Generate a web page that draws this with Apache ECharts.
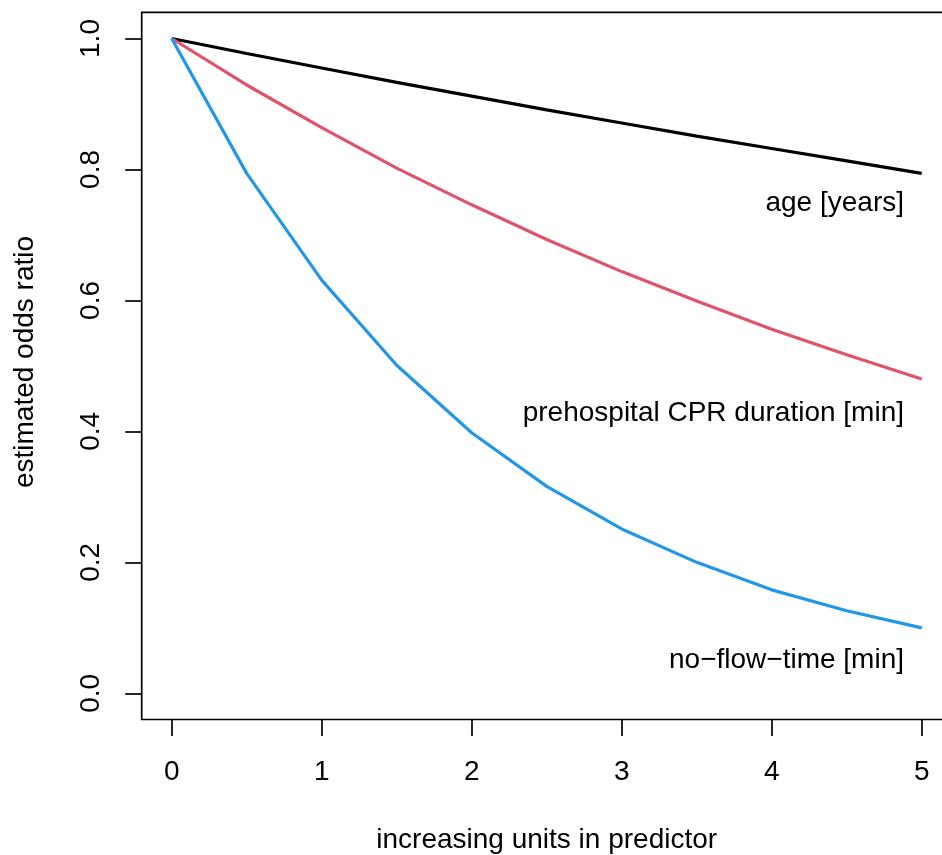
<!DOCTYPE html>
<html>
<head>
<meta charset="utf-8">
<title>estimated odds ratio</title>
<script src="https://cdn.jsdelivr.net/npm/echarts@6/dist/echarts.min.js"></script>
<style>
  html, body { margin: 0; padding: 0; background: #fff; }
  #chart { width: 942px; height: 855px; }
</style>
</head>
<body>
<div id="chart"></div>
<script>
// values
const units = [0, 0.5, 1, 1.5, 2, 2.5, 3, 3.5, 4, 4.5, 5];
const age = [1, 0.977, 0.955, 0.933, 0.912, 0.891, 0.871, 0.851, 0.832, 0.813, 0.794];
const cprDuration = [1, 0.929, 0.864, 0.802, 0.746, 0.693, 0.644, 0.599, 0.556, 0.517, 0.480];
const noFlowTime = [1, 0.794, 0.631, 0.501, 0.398, 0.316, 0.251, 0.200, 0.158, 0.126, 0.100];
const xTicks = [0, 1, 2, 3, 4, 5];
const yTicks = [0, 0.2, 0.4, 0.6, 0.8, 1.0];

const FONT = '"Liberation Sans", Helvetica, Arial, sans-serif';
const FS = 28;
const toPairs = vals => vals.map((v, i) => [units[i], v]);

const chart = echarts.init(document.getElementById('chart'));

const lineSeries = (name, vals, color) => ({
  name: name,
  type: 'line',
  data: toPairs(vals),
  showSymbol: false,
  symbol: 'none',
  lineStyle: { color: color, width: 3.2, cap: 'butt' },
  animation: false
});

const tickStyle = { color: '#000', width: 1.7 };

chart.setOption({
  animation: false,
  textStyle: { fontFamily: FONT },
  // plot box runs past the right edge of the picture, as in the original
  grid: {
    left: 141.7,
    top: 12.3,
    width: 810,
    height: 707.2,
    outerBoundsMode: 'none',
    containLabel: false,
    show: true,
    borderColor: '#000',
    borderWidth: 1.7,
    backgroundColor: 'transparent'
  },
  xAxis: {
    type: 'value',
    min: -0.2,
    max: 5.2,
    axisLine: { show: false, onZero: false },
    splitLine: { show: false },
    axisTick: { show: true, length: 16.5, lineStyle: tickStyle, customValues: xTicks },
    axisLabel: {
      customValues: xTicks,
      margin: 39,
      color: '#000',
      fontSize: FS,
      fontFamily: FONT
    }
  },
  yAxis: {
    type: 'value',
    min: -0.04,
    max: 1.04,
    axisLine: { show: false, onZero: false },
    splitLine: { show: false },
    axisTick: { show: true, length: 16.5, lineStyle: tickStyle, customValues: yTicks },
    axisLabel: {
      customValues: yTicks,
      rotate: 90,
      margin: 36,
      color: '#000',
      fontSize: FS,
      fontFamily: FONT,
      formatter: v => v.toFixed(1)
    }
  },
  series: [
    lineSeries('age [years]', age, '#000000'),
    lineSeries('prehospital CPR duration [min]', cprDuration, '#DF536B'),
    lineSeries('no-flow-time [min]', noFlowTime, '#2297E6')
  ],
  graphic: [
    { type: 'text', x: 904, y: 203.5, style: { text: 'age [years]', font: FS + 'px ' + FONT, fill: '#000', textAlign: 'right', textVerticalAlign: 'middle' } },
    { type: 'text', x: 904, y: 413.5, style: { text: 'prehospital CPR duration [min]', font: FS + 'px ' + FONT, fill: '#000', textAlign: 'right', textVerticalAlign: 'middle' } },
    { type: 'text', x: 904, y: 660.5, style: { text: 'no\u2212flow\u2212time [min]', font: FS + 'px ' + FONT, fill: '#000', textAlign: 'right', textVerticalAlign: 'middle' } },
    { type: 'text', x: 546.7, y: 840, style: { text: 'increasing units in predictor', font: FS + 'px ' + FONT, fill: '#000', textAlign: 'center', textVerticalAlign: 'middle' } },
    { type: 'text', x: 25.5, y: 362, rotation: Math.PI / 2, style: { text: 'estimated odds ratio', font: FS + 'px ' + FONT, fill: '#000', textAlign: 'center', textVerticalAlign: 'middle' } }
  ]
});
</script>
</body>
</html>
